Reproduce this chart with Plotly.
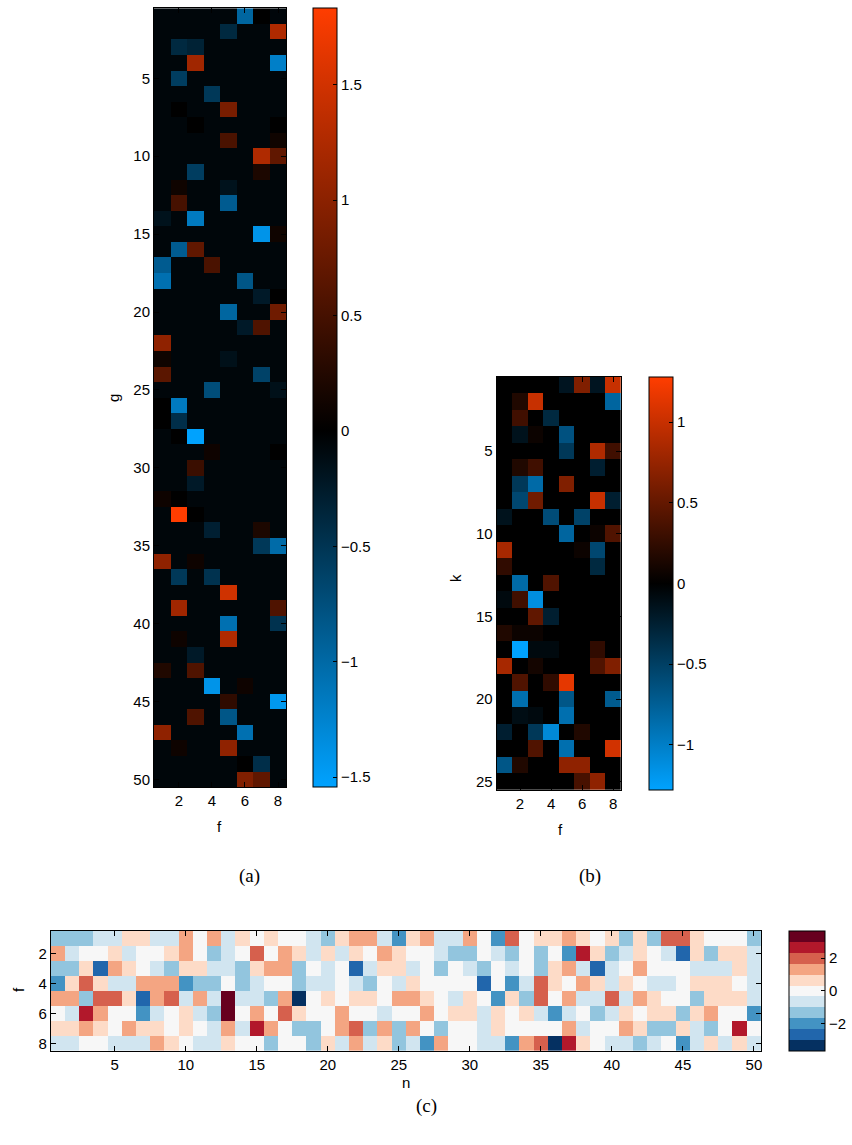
import plotly.graph_objects as go

W, H = 852, 1145

# ---- panel (a): 50 x 8 matrix (rows g = 1..50, columns f = 1..8) ----
panel_a = [
    [-.06, -.06, -.06, -.06, -.06, -.97, 0.0, -.06],
    [-.06, -.06, -.06, -.06, -.39, -.06, -.06, 1.26],
    [-.06, -.39, -.32, -.06, -.06, -.06, -.06, -.06],
    [-.06, -.06, 1.15, -.06, -.06, -.06, -.06, -1.21],
    [-.06, -.58, -.06, -.06, -.06, -.06, -.06, -.06],
    [-.06, -.06, -.06, -.53, -.06, -.06, -.06, -.06],
    [-.06, 0.0, -.06, -.06, .86, -.06, -.06, -.06],
    [-.06, -.06, 0.0, -.06, -.06, -.06, -.06, 0.0],
    [-.06, -.06, -.06, -.06, .53, -.06, -.06, .11],
    [-.06, -.06, -.06, -.06, -.06, -.06, 1.26, .69],
    [-.06, -.06, -.58, -.06, -.06, -.06, .20, -.06],
    [-.06, .11, -.06, -.06, -.17, -.06, -.06, -.06],
    [-.06, .50, -.06, -.06, -.87, -.06, -.06, -.06],
    [-.17, -.06, -1.16, -.06, -.06, -.06, -.06, -.06],
    [-.06, -.06, -.06, -.06, -.06, -.06, -1.41, .11],
    [-.06, -.87, .69, -.06, -.06, -.06, -.06, -.06],
    [-.87, -.06, -.06, .53, -.06, -.06, -.06, -.06],
    [-1.07, -.06, -.06, -.06, -.06, -.82, -.06, -.06],
    [-.06, -.06, -.06, -.06, -.06, -.06, -.24, 0.0],
    [-.06, -.06, -.06, -.06, -.97, -.06, -.06, .80],
    [-.06, -.06, -.06, -.06, -.06, -.24, .57, -.06],
    [1.03, -.06, -.06, -.06, -.06, -.06, -.06, -.06],
    [.11, -.06, -.06, -.06, -.15, -.06, -.06, -.06],
    [.65, -.06, -.06, -.06, -.06, -.06, -.63, -.06],
    [-.06, -.06, -.06, -.73, -.06, -.06, -.06, -.15],
    [0.0, -1.16, -.06, -.06, -.06, -.06, -.06, -.06],
    [0.0, -.44, -.06, -.06, -.06, -.06, -.06, -.06],
    [-.06, 0.0, -1.54, -.06, -.06, -.06, -.06, -.06],
    [-.06, -.06, -.06, .10, -.06, -.06, -.06, 0.0],
    [-.06, -.06, .42, -.06, -.06, -.06, -.06, -.06],
    [-.06, -.06, -.24, -.06, -.06, -.06, -.06, -.06],
    [.10, 0.0, -.06, -.06, -.06, -.06, -.06, -.06],
    [-.06, 1.83, 0.0, -.06, -.06, -.06, -.06, -.06],
    [-.06, -.06, -.06, -.30, -.06, -.06, .20, -.06],
    [-.06, -.06, -.06, -.06, -.06, -.06, -.53, -1.02],
    [1.03, -.06, .10, -.06, -.06, -.06, -.06, -.06],
    [-.06, -.53, -.06, -.48, -.06, -.06, -.06, -.06],
    [-.06, -.06, -.06, -.06, 1.49, -.06, -.06, -.06],
    [-.06, 1.15, -.06, -.06, -.06, -.06, -.06, .57],
    [-.06, -.06, -.06, -.06, -1.07, -.06, -.06, -.48],
    [-.06, .10, -.06, -.06, 1.26, -.06, -.06, -.06],
    [-.06, -.06, -.24, -.06, -.06, -.06, -.06, -.06],
    [.23, -.06, .57, -.06, -.06, -.06, -.06, -.06],
    [-.06, -.06, -.06, -1.41, -.06, .10, -.06, -.06],
    [-.06, -.06, -.06, -.06, .34, -.06, -.06, -1.45],
    [-.06, -.06, .57, -.06, -.82, -.06, -.06, -.06],
    [1.03, -.06, -.06, -.06, -.06, -1.07, -.06, -.06],
    [-.06, .10, -.06, -.06, 1.03, -.06, -.06, -.06],
    [-.06, -.06, -.06, -.06, -.06, 0.0, -.44, -.06],
    [-.06, -.06, -.06, -.06, -.06, .92, .69, -.06],
]

# ---- panel (b): 25 x 8 matrix (rows k = 1..25, columns f = 1..8) ----
panel_b = [
    [0, 0, 0, 0, -.16, .64, -.16, 1.0],
    [0, .16, 1.0, 0, 0, 0, 0, -.80],
    [0, .32, 0, -.32, 0, 0, 0, 0],
    [0, -.14, .06, 0, -.64, 0, 0, 0],
    [0, 0, 0, 0, -.44, 0, .88, .32],
    [0, .16, .32, 0, 0, 0, -.24, 0],
    [0, -.44, -.84, 0, .64, 0, 0, 0],
    [0, -.56, .56, 0, 0, 0, 1.0, -.24],
    [-.14, 0, 0, -.60, 0, -.52, 0, 0],
    [0, 0, 0, 0, -.80, 0, .06, .40],
    [.84, 0, 0, 0, 0, .06, -.56, 0],
    [.24, 0, 0, 0, 0, 0, -.32, 0],
    [0, -.84, 0, .40, 0, 0, 0, 0],
    [-.07, .32, -1.12, 0, 0, 0, 0, 0],
    [0, 0, .48, -.24, 0, 0, 0, 0],
    [.16, .06, .06, 0, 0, 0, 0, 0],
    [0, -1.28, -.07, -.07, 0, 0, .24, 0],
    [.84, 0, .10, 0, 0, 0, .40, .64],
    [0, .40, 0, .24, 1.15, 0, 0, 0],
    [0, -.88, 0, 0, -.68, 0, 0, -.72],
    [0, -.10, -.07, 0, -.88, 0, 0, 0],
    [-.24, 0, -.44, -1.08, 0, .16, 0, 0],
    [0, 0, .40, 0, -.88, 0, 0, 1.05],
    [-.68, .16, 0, 0, .72, .72, 0, 0],
    [0, 0, 0, 0, 0, .36, .72, 0],
]

# ---- panel (c): 8 x 50 matrix (rows f = 1..8, columns n = 1..50) ----
panel_c = [
    [-1.3, -1.3, -1.3, -0.7, -0.7, 0.7, 0.7, -0.7, -0.7, 1.3, 0.0, 1.3, -0.7, 0.7, 0.0, 0.7, 0.0,
     0.0, -0.7, -1.3, 0.7, 1.3, 1.3, -0.7, -2.0, 0.7, 1.3, -0.7, -0.7, 1.3, 0.0, -2.0, 2.0, 0.0,
     0.7, 0.7, 1.3, 0.7, 0.0, 0.7, -1.3, 0.7, -1.3, 2.0, 2.0, 0.7, 0.0, 0.0, 0.0, -1.3],
    [1.3, -0.7, 0.0, 0.0, 0.7, -0.7, 0.0, 0.0, 0.7, 1.3, 0.0, -1.3, -0.7, 0.0, 2.0, 0.0, 1.3,
     0.7, -0.7, 0.7, -0.7, 0.7, 0.0, 1.3, 0.7, 0.0, 0.0, -0.7, -1.3, -1.3, 0.0, -0.7, -1.3, 0.0,
     -1.3, 0.0, -2.0, 2.7, 0.7, -1.3, -0.7, 0.7, 0.0, -0.7, -2.7, 0.7, -1.3, 0.7, 0.7, -0.7],
    [-1.3, -1.3, 0.7, -2.7, 1.3, 0.7, 0.0, -0.7, -1.3, 0.7, 0.7, -0.7, -0.7, -1.3, 0.7, 1.3, 1.3,
     -1.3, 0.0, -0.7, 0.0, -2.7, -0.7, 0.7, 0.7, -0.7, 0.0, -1.3, 0.0, -0.7, -1.3, 0.0, -0.7, 0.0,
     -1.3, 0.7, 1.3, -0.7, -2.7, -0.7, 0.0, 1.3, 0.0, 0.0, 0.0, -0.7, -0.7, -0.7, 0.7, -0.7],
    [-2.0, 0.7, 2.0, 0.7, -0.7, -0.7, 1.3, 1.3, 1.3, -2.0, -1.3, -1.3, 0.0, -1.3, -0.7, 0.0, 0.0,
     -1.3, -0.7, -0.7, 0.0, -0.7, -1.3, 0.0, -0.7, 0.7, 0.0, 0.0, 0.0, 0.0, -2.7, 0.0, -2.0, -0.7,
     2.0, 0.7, 0.0, 1.3, 0.7, -0.7, 0.7, 0.0, -0.7, -0.7, 0.0, 0.7, 0.7, 0.7, 0.0, -0.7],
    [1.3, 1.3, -1.3, 2.0, 2.0, 0.7, -2.7, 1.3, 2.0, -0.7, 1.3, -0.7, 3.3, -0.7, -0.7, -1.3, 1.3,
     -3.3, 0.0, 0.7, 0.0, 0.7, 0.7, 0.0, 1.3, 1.3, 0.7, 0.0, -0.7, 0.7, 0.0, -2.0, 0.7, -1.3,
     2.0, 0.0, 1.3, -0.7, -0.7, 2.0, -0.7, 1.3, 0.7, 0.0, 0.0, -1.3, 0.7, 0.7, 0.7, -0.7],
    [0.0, -0.7, 2.7, 1.3, 0.0, 0.0, -2.0, -0.7, 0.0, 0.7, -0.7, -1.3, 3.3, 0.0, 1.3, 0.0, 2.0,
     0.7, 0.0, 0.0, 1.3, 0.0, 0.0, -0.7, 0.0, 0.0, 1.3, 0.0, 0.7, 0.7, -0.7, 0.7, 0.0, 0.7,
     -0.7, -2.0, -0.7, 0.0, -1.3, -0.7, 0.7, 0.0, 0.7, 0.7, -1.3, 0.7, 1.3, 0.0, 0.0, -2.0],
    [0.7, 0.7, 1.3, 0.7, 0.0, 1.3, 0.7, 0.7, 0.0, 0.7, 0.0, -0.7, 1.3, -0.7, 2.7, 1.3, 0.0,
     -1.3, -1.3, 0.0, 1.3, 2.0, -1.3, 1.3, -1.3, 1.3, 0.0, -1.3, 0.0, 0.0, -0.7, 0.7, 0.0, 0.0,
     0.0, 0.0, 1.3, -0.7, 0.0, 0.0, 1.3, 0.7, -1.3, -1.3, 0.7, -0.7, -1.3, 0.0, 2.7, 0.0],
    [-0.7, -0.7, 0.0, 0.0, -0.7, -0.7, -0.7, 1.3, 0.7, 0.0, -0.7, -0.7, 0.7, 0.0, 0.0, -1.3, 0.0,
     0.0, -1.3, 0.7, -0.7, 1.3, -0.7, 0.7, -1.3, -0.7, -2.0, 1.3, 0.0, 0.0, -0.7, -0.7, -2.0, 1.3,
     2.0, -3.3, 2.7, 0.7, 0.0, -0.7, -0.7, -1.3, -0.7, 0.0, -2.0, -0.7, 0.7, -0.7, 0.7, -0.7],
]

f_idx = list(range(1, 9))
g_idx = list(range(1, 51))
k_idx = list(range(1, 26))
n_idx = list(range(1, 51))

# color limits
A_MIN, A_MAX = -1.544, 1.832
B_MIN, B_MAX = -1.28, 1.28
C_LIM = 3.667

BLUE, BLACK, RED = "#00a2ff", "#000000", "#ff3d00"


def diverging(zmin, zmax):
    mid = -zmin / (zmax - zmin)
    return [[0.0, BLUE], [mid, BLACK], [1.0, RED]]


rdbu = ["#053061", "#2166ac", "#4393c3", "#92c5de", "#d1e5f0", "#f7f7f7",
        "#fddbc7", "#f4a582", "#d6604d", "#b2182b", "#67001f"]
n_bins = len(rdbu)
rdbu_steps = []
for i, c in enumerate(rdbu):
    rdbu_steps.append([i / n_bins, c])
    rdbu_steps.append([(i + 1) / n_bins, c])


def px(x):
    return x / W


def py(y):
    return 1 - y / H


TICKFONT = dict(family="Liberation Sans, Arial, sans-serif", size=15, color="black")


def cbar(x_left, y_top, y_bot, thick, ticks):
    return dict(
        x=px(x_left), xanchor="left", xpad=0,
        y=py((y_top + y_bot) / 2), yanchor="middle", ypad=0,
        len=(y_bot - y_top) / H, lenmode="fraction",
        thickness=thick, thicknessmode="pixels",
        outlinecolor="black", outlinewidth=1,
        tickvals=ticks, ticks="inside", ticklen=4, tickcolor="black",
        tickfont=TICKFONT,
    )


fig = go.Figure()

fig.add_trace(go.Heatmap(
    z=panel_a, x=f_idx, y=g_idx, xaxis="x", yaxis="y",
    colorscale=diverging(A_MIN, A_MAX), zmin=A_MIN, zmax=A_MAX,
    colorbar=cbar(313.3, 8.2, 787.2, 24, [-1.5, -1, -0.5, 0, 0.5, 1, 1.5]),
    hoverinfo="skip",
))
fig.add_trace(go.Heatmap(
    z=panel_b, x=f_idx, y=k_idx, xaxis="x2", yaxis="y2",
    colorscale=diverging(B_MIN, B_MAX), zmin=B_MIN, zmax=B_MAX,
    colorbar=cbar(649.3, 376.7, 790.0, 24, [-1, -0.5, 0, 0.5, 1]),
    hoverinfo="skip",
))
fig.add_trace(go.Heatmap(
    z=panel_c, x=n_idx, y=f_idx, xaxis="x3", yaxis="y3",
    colorscale=rdbu_steps, zmin=-C_LIM, zmax=C_LIM,
    colorbar=cbar(789.0, 930.8, 1050.8, 36, [-2, 0, 2]),
    hoverinfo="skip",
))


def axis(domain, rng, ticks, anchor):
    return dict(
        domain=domain, range=rng, tickvals=ticks, anchor=anchor,
        ticks="inside", ticklen=5, tickcolor="black",
        showline=True, linecolor="black", linewidth=1, mirror="ticks",
        showgrid=False, zeroline=False, tickfont=TICKFONT, fixedrange=True,
    )


fig.update_layout(
    width=W, height=H,
    margin=dict(l=0, r=0, t=0, b=0),
    paper_bgcolor="white", plot_bgcolor="white",
    showlegend=False,
    xaxis=axis([px(154.0), px(286.3)], [0.5, 8.5], [2, 4, 6, 8], "y"),
    yaxis=axis([py(787.2), py(8.2)], [50.5, 0.5], list(range(5, 51, 5)), "x"),
    xaxis2=axis([px(496.7), px(621.0)], [0.5, 8.5], [2, 4, 6, 8], "y2"),
    yaxis2=axis([py(790.0), py(376.7)], [25.5, 0.5], list(range(5, 26, 5)), "x2"),
    xaxis3=axis([px(50.8), px(761.0)], [0.5, 50.5], list(range(5, 51, 5)), "y3"),
    yaxis3=axis([py(1050.8), py(930.8)], [8.5, 0.5], [2, 4, 6, 8], "x3"),
)

LABELFONT = dict(family="Liberation Sans, Arial, sans-serif", size=15, color="black")
SERIF = dict(family="Liberation Serif, DejaVu Serif, serif", size=19, color="black")

labels = [
    ("g", 113, 398, -90, LABELFONT),
    ("f", 219, 826, 0, LABELFONT),
    ("k", 455, 578, -90, LABELFONT),
    ("f", 560, 829, 0, LABELFONT),
    ("f", 18, 990, -90, LABELFONT),
    ("n", 406, 1082, 0, LABELFONT),
    ("(a)", 249, 876, 0, SERIF),
    ("(b)", 590, 876, 0, SERIF),
    ("(c)", 426, 1106, 0, SERIF),
]
for text, x, y, ang, font in labels:
    fig.add_annotation(
        text=text, x=px(x), y=py(y), xref="paper", yref="paper",
        xanchor="center", yanchor="middle", showarrow=False,
        textangle=ang, font=font,
    )

fig.write_html("out.html")
